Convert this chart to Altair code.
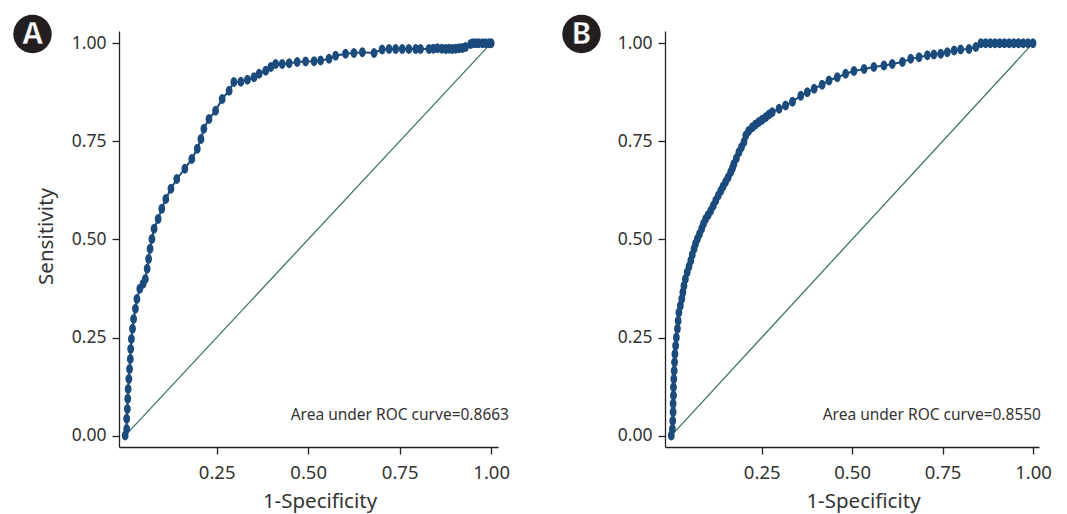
import altair as alt
import pandas as pd

# ---------------- data ----------------
a_fpr = [0.000, 0.004, 0.004, 0.006, 0.007, 0.008, 0.010, 0.012, 0.014, 0.015,
         0.017, 0.020, 0.023, 0.028, 0.032, 0.040, 0.049, 0.055, 0.060, 0.064,
         0.068, 0.073, 0.079, 0.090, 0.100, 0.111, 0.125, 0.141, 0.163, 0.182,
         0.197, 0.207, 0.215, 0.229, 0.247, 0.265, 0.284, 0.297, 0.316, 0.334,
         0.352, 0.366, 0.384, 0.398, 0.411, 0.429, 0.448, 0.470, 0.493, 0.516,
         0.534, 0.557, 0.575, 0.602, 0.625, 0.648, 0.680, 0.702, 0.721, 0.739,
         0.757, 0.775, 0.794, 0.807, 0.830, 0.842, 0.853, 0.865, 0.876, 0.885,
         0.894, 0.903, 0.912, 0.921, 0.930, 0.944, 0.950, 0.958, 0.966, 0.976,
         0.985, 0.994, 1.000]
a_tpr = [0.000, 0.017, 0.043, 0.068, 0.094, 0.119, 0.144, 0.170, 0.195, 0.221,
         0.246, 0.272, 0.297, 0.323, 0.348, 0.374, 0.387, 0.399, 0.425, 0.450,
         0.476, 0.501, 0.527, 0.552, 0.578, 0.603, 0.629, 0.654, 0.680, 0.705,
         0.731, 0.756, 0.782, 0.807, 0.828, 0.858, 0.879, 0.901, 0.902, 0.907,
         0.913, 0.922, 0.930, 0.939, 0.947, 0.947, 0.949, 0.952, 0.953, 0.954,
         0.956, 0.960, 0.968, 0.973, 0.975, 0.977, 0.975, 0.984, 0.985, 0.985,
         0.985, 0.985, 0.985, 0.985, 0.985, 0.986, 0.987, 0.986, 0.985, 0.986,
         0.985, 0.986, 0.987, 0.988, 0.990, 0.998, 1.000, 1.000, 1.000, 1.000,
         1.000, 1.000, 1.000]

b_fpr = [0.000, 0.003, 0.004, 0.005, 0.005, 0.006, 0.006, 0.007, 0.008, 0.009,
         0.010, 0.012, 0.014, 0.017, 0.019, 0.021, 0.025, 0.029, 0.032, 0.035,
         0.039, 0.044, 0.049, 0.054, 0.058, 0.063, 0.067, 0.072, 0.078, 0.084,
         0.089, 0.095, 0.102, 0.109, 0.116, 0.123, 0.130, 0.137, 0.143, 0.150,
         0.157, 0.164, 0.169, 0.173, 0.180, 0.187, 0.194, 0.201, 0.206, 0.214,
         0.224, 0.233, 0.242, 0.251, 0.261, 0.270, 0.279, 0.298, 0.316, 0.335,
         0.358, 0.376, 0.395, 0.417, 0.436, 0.459, 0.482, 0.505, 0.533, 0.560,
         0.588, 0.611, 0.639, 0.662, 0.685, 0.708, 0.726, 0.745, 0.763, 0.782,
         0.800, 0.823, 0.842, 0.856, 0.869, 0.882, 0.895, 0.908, 0.921, 0.934,
         0.947, 0.960, 0.973, 0.986, 1.000]
b_tpr = [0.000, 0.017, 0.038, 0.060, 0.081, 0.102, 0.123, 0.144, 0.165, 0.187,
         0.208, 0.229, 0.250, 0.272, 0.293, 0.314, 0.331, 0.348, 0.365, 0.382,
         0.399, 0.416, 0.431, 0.446, 0.461, 0.476, 0.489, 0.501, 0.514, 0.527,
         0.540, 0.552, 0.562, 0.573, 0.586, 0.599, 0.612, 0.624, 0.635, 0.646,
         0.658, 0.671, 0.681, 0.692, 0.707, 0.722, 0.735, 0.748, 0.765, 0.776,
         0.786, 0.793, 0.799, 0.805, 0.811, 0.818, 0.824, 0.833, 0.841, 0.851,
         0.866, 0.875, 0.884, 0.894, 0.905, 0.913, 0.922, 0.929, 0.934, 0.939,
         0.943, 0.947, 0.952, 0.960, 0.964, 0.969, 0.971, 0.973, 0.977, 0.981,
         0.984, 0.985, 0.990, 1.000, 1.000, 1.000, 1.000, 1.000, 1.000, 1.000,
         1.000, 1.000, 1.000, 1.000, 1.000]

diag_x = [0.0, 1.0]
diag_y = [0.0, 1.0]
y_ticks = [0.0, 0.25, 0.5, 0.75, 1.0]
x_ticks = [0.25, 0.5, 0.75, 1.0]
panel_labels = ["A", "B"]
auc_labels = ["Area under ROC curve=0.8663", "Area under ROC curve=0.8550"]

# ---------------- styling ----------------
FONT = "Noto Sans"
CURVE = "#1b4b7d"
DIAG = "#3f7464"
ELLIPSE = "M0,-1A0.68,1,0,1,1,0,1A0.68,1,0,1,1,0,-1Z"
Y_DOMAIN = [-0.029, 1.031]
H = 416


def panel(fpr, tpr, label, auc, x_domain, width, y_title, badge_x, auc_x):
    curve = pd.DataFrame({"fpr": fpr, "tpr": tpr, "order": list(range(len(fpr)))})
    diag = pd.DataFrame({"fpr": diag_x, "tpr": diag_y})

    xs = alt.Scale(domain=x_domain, nice=False, zero=False)
    ys = alt.Scale(domain=Y_DOMAIN, nice=False, zero=False)

    x_axis = alt.Axis(values=x_ticks, format=".2f", title="1-Specificity",
                      labelFontSize=18.5, titleFontSize=20.5, labelPadding=9,
                      titleX=width / 2 + 11, titleY=60, titleAlign="center",
                      titleBaseline="alphabetic", titleFontWeight="normal",
                      grid=False)
    if y_title:
        y_axis = alt.Axis(values=y_ticks, format=".2f", title="Sensitivity",
                          labelFontSize=17.5, titleFontSize=20.5, labelPadding=6,
                          titleX=-67, titleY=205, titleAlign="center",
                          titleBaseline="alphabetic", titleAngle=270,
                          titleFontWeight="normal", grid=False)
    else:
        y_axis = alt.Axis(values=y_ticks, format=".2f", title=None,
                          labelFontSize=17.5, labelPadding=6, grid=False)

    d = alt.Chart(diag).mark_line(color=DIAG, strokeWidth=1.3).encode(
        x=alt.X("fpr:Q", scale=xs, axis=x_axis),
        y=alt.Y("tpr:Q", scale=ys, axis=y_axis),
    )
    ln = alt.Chart(curve).mark_line(color=CURVE, strokeWidth=2).encode(
        x=alt.X("fpr:Q", scale=xs), y=alt.Y("tpr:Q", scale=ys), order="order:Q"
    )
    pts = alt.Chart(curve).mark_point(
        shape=ELLIPSE, size=100, filled=True, color=CURVE, opacity=1
    ).encode(x=alt.X("fpr:Q", scale=xs), y=alt.Y("tpr:Q", scale=ys))

    lab = pd.DataFrame({"label": [label], "auc": [auc]})
    badge = alt.Chart(lab).mark_point(
        shape="circle", size=1480, filled=True, color="#231f20", opacity=1
    ).encode(x=alt.value(badge_x), y=alt.value(3))
    badge_txt = alt.Chart(lab).mark_text(
        font=FONT, fontSize=30, fontWeight="bold", color="white",
        align="center", baseline="middle", stroke="#111", strokeWidth=0.6
    ).encode(x=alt.value(badge_x), y=alt.value(4), text="label:N")
    auc_txt = alt.Chart(lab).mark_text(
        font=FONT, fontSize=15.5, color="#333333", align="right",
        baseline="alphabetic"
    ).encode(x=alt.value(auc_x), y=alt.value(389), text="auc:N")

    return alt.layer(d, ln, pts, badge, badge_txt, auc_txt).properties(
        width=width, height=H
    )


pa = panel(a_fpr, a_tpr, panel_labels[0], auc_labels[0], [-0.0169, 1.0186], 379,
           True, -86.5, 390)
pb = panel(b_fpr, b_tpr, panel_labels[1], auc_labels[1], [-0.0174, 1.0166], 374,
           False, -83.5, 376)

chart = alt.hconcat(pa, pb, spacing=52).properties(
    padding={"left": 5, "top": 6, "right": 5, "bottom": 2},
    background="white",
).configure_view(stroke=None).configure_axis(
    grid=False, domainColor="#222222", tickColor="#222222", domainWidth=1.3,
    tickWidth=1.3, tickSize=7, labelColor="#333333", titleColor="#333333",
    labelFont=FONT, titleFont=FONT
)

chart.save("out.html", embed_options={"renderer": "svg", "actions": False})
